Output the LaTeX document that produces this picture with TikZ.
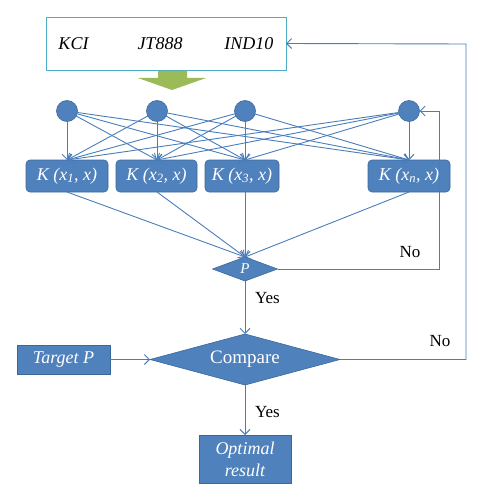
\documentclass[tikz,border=0pt]{standalone}
\usepackage{fontspec}
\setmainfont{Liberation Serif}
\usetikzlibrary{shapes.geometric,arrows.meta}
\definecolor{boxblue}{HTML}{4F81BD}
\definecolor{boxline}{HTML}{3C6898}
\definecolor{edgeblue}{HTML}{4A7EBB}
\definecolor{topline}{HTML}{4BACC6}
\definecolor{arrowgreen}{HTML}{9BBB59}

\begin{document}
\begin{tikzpicture}[x=1pt,y=-1pt]
\tikzstyle{every node} = [inner sep=0pt, outer sep=0pt]
\tikzstyle{source} = [draw=topline, line width=0.9pt, minimum width=240pt, minimum height=53pt, font=\fontsize{18}{20}\selectfont\itshape]
\tikzstyle{unit} = [draw=boxline, fill=boxblue, circle, minimum size=21pt, line width=0.6pt]
\tikzstyle{kernel} = [draw=boxline, fill=boxblue, rounded corners=4pt, minimum height=32pt, line width=0.6pt, text=white, font=\fontsize{18}{20}\selectfont\itshape]
\tikzstyle{block} = [draw=boxline, fill=boxblue, line width=0.6pt, text=white, align=center, font=\fontsize{18}{22}\selectfont\itshape]
\tikzstyle{decision} = [draw=boxline, fill=boxblue, diamond, line width=0.6pt, text=white]
\tikzstyle{edge} = [draw=edgeblue, line width=0.9pt, -{Straight Barb[length=5pt,width=10pt]}]
\tikzstyle{answer} = [font=\fontsize{17}{19}\selectfont]
\useasboundingbox (0,0) rectangle (484,500);
\node[source] (src) at (166,43.5) {KCI\hspace{49pt}JT888\hspace{42pt}IND10};
\fill[arrowgreen] (158,71) -- (187,71) -- (187,78) -- (206,78) -- (172,90) -- (138,78) -- (158,78) -- cycle;
\node[unit] (c1) at (67,111) {};
\node[unit] (c2) at (157,111) {};
\node[unit] (c3) at (245,111) {};
\node[unit] (c4) at (409,111) {};
\node[kernel, minimum width=82pt] (k1) at (67,176) {K (x\textsubscript{1}, x)};
\node[kernel, minimum width=81pt] (k2) at (156.5,176) {K (x\textsubscript{2}, x)};
\node[kernel, minimum width=74pt] (k3) at (242,176) {K (x\textsubscript{3}, x)};
\node[kernel, minimum width=82pt] (k4) at (409,176) {K (x\textsubscript{n}, x)};
\node[decision, minimum width=65pt, minimum height=24pt, aspect=2.7, font=\fontsize{15}{17}\selectfont\itshape] (p) at (245,269) {P};
\node[decision, minimum width=190pt, minimum height=51pt, aspect=3.7, font=\fontsize{19}{21}\selectfont] (cmp) at (245,359.5) {Compare};
\node[block, minimum width=93pt, minimum height=29pt] (tgt) at (63.5,359.5) {Target P};
\node[block, minimum width=92pt, minimum height=48pt] (opt) at (245,459) {Optimal\\result};
\coordinate (r1) at (439,111);
\coordinate (r2) at (466,44);
\foreach \i in {1,...,4} {
  \foreach \j in {1,...,4} {
    \draw[edge] (c\i) -- (k\j.north -| c\j);
  }
  \draw[edge] (k\i.south -| c\i) -- (p.north);
}
\draw[edge] (p.east) -| (r1) -- (c4);
\node[answer] (no1) at (410,252) {No};
\draw[edge] (p.south) -- (cmp.north);
\node[answer, anchor=west] (yes1) at (255,298) {Yes};
\draw[edge] (tgt) -- (cmp);
\draw[edge] (cmp.east) -| (r2) -- (src.east);
\node[answer] (no2) at (440,341) {No};
\draw[edge] (cmp) -- (opt);
\node[answer, anchor=west] (yes2) at (255,412) {Yes};
\end{tikzpicture}
\end{document}
